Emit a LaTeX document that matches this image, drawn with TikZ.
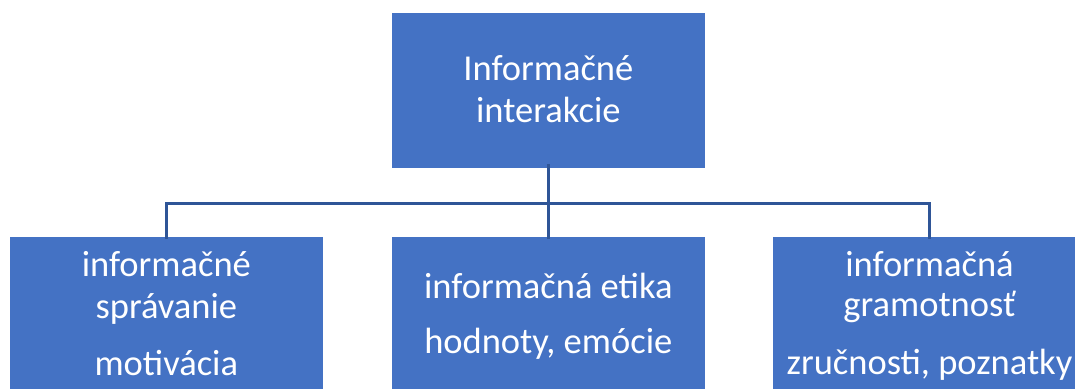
\documentclass[tikz,border=0pt]{standalone}
\usepackage{fontspec}
\setmainfont{Carlito}
\definecolor{boxblue}{HTML}{4472C4}
\definecolor{lineblue}{HTML}{2F5597}
\begin{document}
\begin{tikzpicture}[x=1pt,y=-1pt,
  box/.style={rectangle,fill=boxblue,draw=none,minimum width=313.3pt,minimum height=155pt,inner sep=0pt},
  txt/.style={anchor=base,text=white,inner sep=0pt,font=\fontsize{36.5}{42}\selectfont},
  conn/.style={draw=lineblue,line width=3pt}]
\useasboundingbox (0,0) rectangle (1075,388);
\clip (0,0) rectangle (1075,388);
\node[box] (top) at (548.3,90.7) {};
\node[box] (left) at (166.3,314.5) {};
\node[box] (mid) at (548.3,314.5) {};
\node[box] (right) at (929.5,314.5) {};
\coordinate (bus) at (548.3,203);
\draw[conn] ([yshift=4pt]top.south) -- (bus);
\draw[conn] ([yshift=-2pt]left.north) |- (bus) -| ([yshift=-2pt]right.north);
\draw[conn] (bus) -- ([yshift=-2pt]mid.north);
\node[txt] (t1) at (548.3,80) {Informačné};
\node[txt] (t2) at (548.3,122) {interakcie};
\node[txt] (l1) at (166.3,276.7) {informačné};
\node[txt] (l2) at (166.3,318) {správanie};
\node[txt] (l3) at (166.3,375) {motivácia};
\node[txt] (m1) at (548.3,298) {informačná etika};
\node[txt] (m2) at (548.3,353) {hodnoty, emócie};
\node[txt] (r1) at (929.5,276.7) {informačná};
\node[txt] (r2) at (929.5,316.7) {gramotnosť};
\node[txt] (r3) at (929.5,374) {zručnosti, poznatky};
\end{tikzpicture}
\end{document}
